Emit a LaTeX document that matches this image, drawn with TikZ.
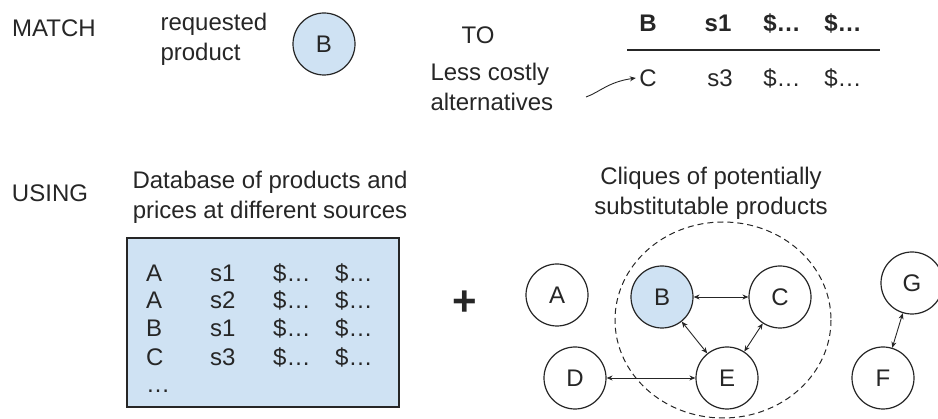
\documentclass[tikz,border=0pt]{standalone}
\usepackage{fontspec}
\setmainfont{Liberation Sans}
\usetikzlibrary{arrows.meta}
\definecolor{prodblue}{HTML}{CFE2F3}
\definecolor{ink}{HTML}{262626}

\begin{document}
\begin{tikzpicture}[x=1pt,y=-1pt,
  font=\fontsize{24}{30}\selectfont, text=ink,
  prod/.style={circle, draw=ink, line width=1.2pt, minimum size=62pt, inner sep=0pt},
  link/.style={{Stealth[length=6pt,width=5pt]}-{Stealth[length=6pt,width=5pt]}, line width=0.9pt, draw=ink},
  cell/.style={anchor=west, inner xsep=0pt}]
\useasboundingbox (0,0) rectangle (938,419);

% match part
\node (match) at (54,28) {MATCH};
\node[align=left, anchor=west] (req) at (157,39) {requested\\product};
\node[prod, fill=prodblue] (reqB) at (324,44) {B};
\node (to) at (478,35) {TO};
\node[align=left, anchor=west] (alt) at (427,87) {Less costly\\alternatives};

% result table
\node (hB) at (648,23) {\textbf{B}};
\node (hs) at (718,23) {\textbf{s1}};
\node (hp) at (782,23) {\textbf{\$…}};
\node (hq) at (843,23) {\textbf{\$…}};
\coordinate (ruleL) at (627,50);
\coordinate (ruleR) at (880,50);
\draw [line width=1.1pt, ink] (ruleL) -- (ruleR);
\node (rC) at (648,78) {C};
\node (rs) at (720,78) {s3};
\node (rp) at (782,78) {\$…};
\node (rq) at (843,78) {\$…};
\coordinate (altend) at (586,97);
\draw [-{Stealth[length=6pt,width=5pt]}, line width=0.9pt, ink] (altend) .. controls (600,92) and (608,82) .. (rC.west);

% using part
\node (using) at (50,193) {USING};
\node[align=center] (dbtext) at (270,197) {Database of products and\\prices at different sources};
\draw [fill=prodblue, draw=ink, line width=1.2pt] (127,238) rectangle (399,407);
\foreach \p/\s/\y [count=\i] in {A/s1/273, A/s2/300, B/s1/328, C/s3/357} {
  \node[cell] (dbp\i) at (146,\y) {\p};
  \node[cell] (dbs\i) at (210,\y) {\s};
  \node[cell] (dbx\i) at (273,\y) {\$…};
  \node[cell] (dby\i) at (335,\y) {\$…};
}
\node[cell] (dbmore) at (146,391) {…};

\node (plus) at (465,303) {\fontsize{42}{42}\selectfont\textbf{+}};

% cliques
\node[align=center] (cltext) at (711,193) {Cliques of potentially\\substitutable products};
\draw [ink, line width=1pt, dash pattern=on 6pt off 4pt] (723,320) ellipse [x radius=108, y radius=98];
\node[prod] (A) at (557,295) {A};
\node[prod, fill=prodblue] (B) at (662,297) {B};
\node[prod] (C) at (780,297) {C};
\node[prod] (D) at (575,378) {D};
\node[prod] (E) at (727,378) {E};
\node[prod] (G) at (912,283) {G};
\node[prod] (F) at (883,378) {F};
\draw [link] (B) -- (C);
\draw [link] (B) -- (E);
\draw [link] (E) -- (C);
\draw [link] (D) -- (E);
\draw [link] (F) -- (G);
\end{tikzpicture}
\end{document}
